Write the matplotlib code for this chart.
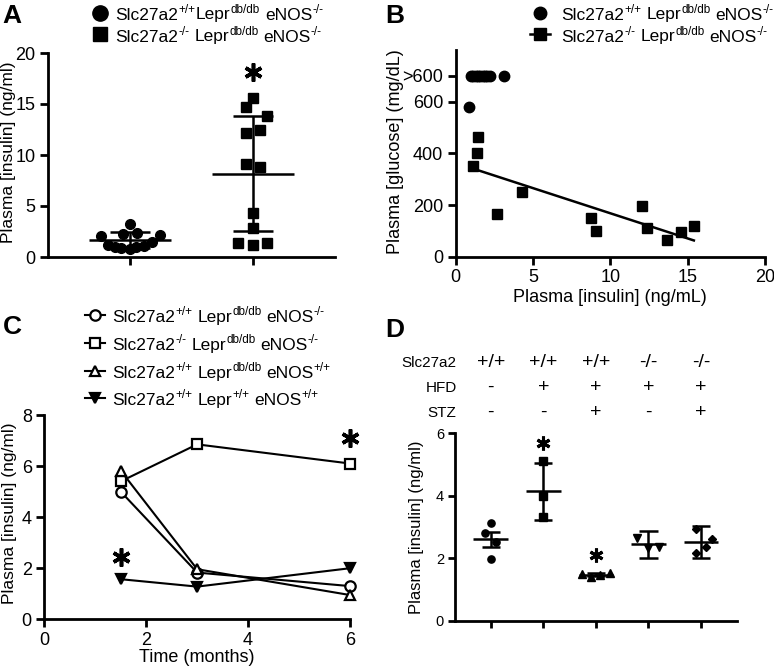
import numpy as np
import matplotlib
matplotlib.use('Agg')
import matplotlib.pyplot as plt
from matplotlib.lines import Line2D

plt.rcParams['font.family'] = ['Liberation Sans', 'DejaVu Sans']

# ---------------- data ----------------
# Panel A: plasma insulin (ng/ml)
A_wt = [3.2, 2.1, 2.3, 2.4, 2.2, 1.2, 1.0, 0.9, 0.8, 1.0, 1.1, 1.5]
A_ko = [15.6, 14.7, 13.8, 12.2, 12.5, 9.1, 8.8, 4.3, 2.85, 1.4, 1.2, 1.4]
# legend labels as (text, superscript?) segments; ' ' marks a word space
A_labels = [[('Slc27a2', 0), ('+/+', 1), ('Lepr', 0), ('db/db', 1), (' ', 0), ('eNOS', 0), ('-/-', 1)],
            [('Slc27a2', 0), ('-/-', 1), (' ', 0), ('Lepr', 0), ('db/db', 1), (' ', 0), ('eNOS', 0), ('-/-', 1)]]

# Panel B: insulin (ng/mL) vs glucose (mg/dL); 700 = ">600"
B_wt_ins = [0.88, 1.0, 1.15, 1.3, 1.45, 1.6, 1.75, 1.9, 2.05, 2.2, 3.15]
B_wt_glu = [580, 700, 700, 700, 700, 700, 700, 700, 700, 700, 700]
B_ko_ins = [1.46, 1.36, 1.10, 2.69, 4.27, 8.73, 9.05, 12.06, 12.35, 13.64, 14.55, 15.4]
B_ko_glu = [462, 400, 352, 166, 252, 149, 101, 197, 110, 65, 97, 120]
B_yticks = [0, 200, 400, 600, 700]
B_yticklabels = ['0', '200', '400', '600', '>600']
B_labels = [[('Slc27a2', 0), ('+/+', 1), (' ', 0), ('Lepr', 0), ('db/db', 1), (' ', 0), ('eNOS', 0), ('-/-', 1)],
            [('Slc27a2', 0), ('-/-', 1), (' ', 0), ('Lepr', 0), ('db/db', 1), (' ', 0), ('eNOS', 0), ('-/-', 1)]]

# Panel C: insulin over time
C_time = [1.5, 3, 6]
C_wt_db_eko = [5.0, 1.83, 1.3]
C_ko_db_eko = [5.4, 6.85, 6.1]
C_wt_db_ewt = [5.82, 1.96, 0.95]
C_wt_wt_ewt = [1.57, 1.28, 2.0]
C_labels = [[('Slc27a2', 0), ('+/+', 1), (' ', 0), ('Lepr', 0), ('db/db', 1), (' ', 0), ('eNOS', 0), ('-/-', 1)],
            [('Slc27a2', 0), ('-/-', 1), (' ', 0), ('Lepr', 0), ('db/db', 1), (' ', 0), ('eNOS', 0), ('-/-', 1)],
            [('Slc27a2', 0), ('+/+', 1), (' ', 0), ('Lepr', 0), ('db/db', 1), (' ', 0), ('eNOS', 0), ('+/+', 1)],
            [('Slc27a2', 0), ('+/+', 1), (' ', 0), ('Lepr', 0), ('+/+', 1), (' ', 0), ('eNOS', 0), ('+/+', 1)]]

# Panel D: insulin by treatment group
D_slc = ['+/+', '+/+', '+/+', '-/-', '-/-']
D_hfd = ['-', '+', '+', '+', '+']
D_stz = ['-', '-', '+', '-', '+']
D_vals = [[3.14, 2.8, 2.53, 1.99],
          [5.12, 4.0, 3.31],
          [1.5, 1.39, 1.46, 1.54],
          [2.64, 2.32, 2.37],
          [2.93, 2.62, 2.35, 2.16]]
D_err = [0.24, 0.91, 0.05, 0.42, 0.52]

# ---------------- layout (jitter / positions) ----------------
A_jit_wt = [0, -0.24, -0.06, 0.06, 0.24, -0.18, -0.12, -0.07, 0.0, 0.05, 0.11, 0.18]
A_jit_ko = [0, -0.06, 0.11, -0.06, 0.055, -0.06, 0.055, 0, 0, -0.12, 0, 0.11]
D_jit = [[0, -0.11, 0.10, 0],
         [0, 0, 0],
         [-0.27, -0.09, 0.08, 0.26],
         [-0.22, 0, 0.21],
         [-0.09, 0.21, 0.10, -0.09]]
D_markers = ['o', 's', '^', 'v', 'D']

W, H = 774, 670
fig = plt.figure(figsize=(W / 100, H / 100), dpi=100)
renderer = fig.canvas.get_renderer()


def fx(px):
    return px / W


def fy(py):
    return 1 - py / H


def rich(xpx, ybase, segs, size):
    """Draw text with superscripts starting at pixel x, baseline pixel y."""
    x = xpx
    for txt, sup in segs:
        if txt == ' ':
            x += size * 0.26 * 100 / 72
            continue
        s = size * 0.68 if sup else size
        yb = ybase - (size * 0.40 * 100 / 72 if sup else 0)
        t = fig.text(fx(x), fy(yb), txt, fontsize=s, va='baseline', ha='left')
        x += t.get_window_extent(renderer).width + (0.5 if sup else 0.3)


def add_ax(l, t, r, b):
    ax = fig.add_axes([fx(l), fy(b), fx(r) - fx(l), fy(t) - fy(b)])
    for s in ['top', 'right']:
        ax.spines[s].set_visible(False)
    for s in ['left', 'bottom']:
        ax.spines[s].set_linewidth(2)
    ax.tick_params(width=2, length=6, direction='out', labelsize=13, pad=3)
    return ax


def star(ax, x, y, size=13, mew=2.6):
    ax.plot([x], [y], marker=(6, 2, 0), ms=size, mew=mew, color='k', clip_on=False, zorder=5)


LW = 1.8
FS_LAB = 13
FS_LEG = 12.5

# ---------------- Panel A ----------------
axA = add_ax(48, 53, 335, 257)
axA.set_xlim(-0.667, 1.667)
axA.set_ylim(0, 20)
axA.set_yticks([0, 5, 10, 15, 20])
axA.set_xticks([0, 1])
axA.set_xticklabels(['', ''])
for i, (vals, jit, mk) in enumerate([(A_wt, A_jit_wt, 'o'), (A_ko, A_jit_ko, 's')]):
    v = np.array(vals)
    axA.plot(i + np.array(jit), v, ls='none', marker=mk, ms=7 if mk == 'o' else 7.2,
             color='k', clip_on=False, zorder=3)
    m, s = v.mean(), v.std(ddof=1)
    axA.hlines(m, i - 0.33, i + 0.33, color='k', lw=LW, zorder=4)
    axA.vlines(i, m - s, m + s, color='k', lw=LW, zorder=4)
    axA.hlines([m - s, m + s], i - 0.16, i + 0.16, color='k', lw=LW, zorder=4)
star(axA, 1, 18.1)
fig.text(fx(9), fy(152), 'Plasma [insulin] (ng/ml)', rotation=90, ha='center', va='center', fontsize=12.5)
fig.add_artist(Line2D([fx(100)], [fy(12.5)], transform=fig.transFigure, marker='o', ms=11, color='k', ls='none'))
fig.add_artist(Line2D([fx(100)], [fy(34)], transform=fig.transFigure, marker='s', ms=10, color='k', ls='none'))
rich(115, 19.5, A_labels[0], FS_LEG)
rich(115, 41.5, A_labels[1], FS_LEG)
fig.text(fx(2), fy(23), 'A', fontsize=19, fontweight='bold', va='baseline')

# ---------------- Panel B ----------------
axB = add_ax(455.7, 50, 765, 256.7)
axB.set_xlim(0, 20)
axB.set_ylim(0, 800)
axB.set_xticks([0, 5, 10, 15, 20])
axB.set_yticks(B_yticks)
axB.set_yticklabels(B_yticklabels)
axB.plot(B_wt_ins, B_wt_glu, ls='none', marker='o', ms=7.5, color='k', zorder=3)
axB.plot(B_ko_ins, B_ko_glu, ls='none', marker='s', ms=7.5, color='k', zorder=3)
coef = np.polyfit(B_ko_ins, B_ko_glu, 1)
xx = np.array([min(B_ko_ins), max(B_ko_ins)])
axB.plot(xx, np.polyval(coef, xx), color='k', lw=LW, zorder=2)
fig.text(fx(610), fy(298), 'Plasma [insulin] (ng/mL)', ha='center', va='center', fontsize=FS_LAB)
fig.text(fx(396), fy(152), 'Plasma [glucose] (mg/dL)', rotation=90, ha='center', va='center', fontsize=FS_LAB)
fig.add_artist(Line2D([fx(540)], [fy(12.5)], transform=fig.transFigure, marker='o', ms=9, color='k', ls='none'))
fig.add_artist(Line2D([fx(530), fx(550)], [fy(34), fy(34)], transform=fig.transFigure, lw=LW, color='k'))
fig.add_artist(Line2D([fx(540)], [fy(34)], transform=fig.transFigure, marker='s', ms=9, color='k', ls='none'))
rich(561, 19.5, B_labels[0], FS_LEG)
rich(561, 41.5, B_labels[1], FS_LEG)
fig.text(fx(385), fy(23), 'B', fontsize=19, fontweight='bold', va='baseline')

# ---------------- Panel C ----------------
axC = add_ax(44.3, 415, 350, 619.3)
axC.set_xlim(0, 6)
axC.set_ylim(0, 8)
axC.set_xticks([0, 2, 4, 6])
axC.set_yticks([0, 2, 4, 6, 8])
C_series = [(C_wt_db_eko, 'o', 'white'), (C_ko_db_eko, 's', 'white'),
            (C_wt_db_ewt, '^', 'white'), (C_wt_wt_ewt, 'v', 'k')]
for vals, mk, fc in C_series:
    axC.plot(C_time, vals, color='k', lw=1.5, marker=mk, ms=7.5, mfc=fc, mec='k', mew=1.6,
             clip_on=False, zorder=3)
star(axC, 1.5, 2.45)
star(axC, 6, 7.1)
fig.text(fx(197), fy(657), 'Time (months)', ha='center', va='center', fontsize=FS_LAB)
fig.text(fx(10), fy(513), 'Plasma [insulin] (ng/ml)', rotation=90, ha='center', va='center', fontsize=12.5)
rows_y = [315, 342.7, 370.7, 398.3]
for (vals, mk, fc), lab, y in zip(C_series, C_labels, rows_y):
    fig.add_artist(Line2D([fx(85), fx(105)], [fy(y), fy(y)], transform=fig.transFigure, lw=1.5, color='k'))
    fig.add_artist(Line2D([fx(95)], [fy(y)], transform=fig.transFigure, marker=mk, ms=7.5, mfc=fc,
                          mec='k', mew=1.6, ls='none'))
    rich(112, y + 7, lab, FS_LEG)
fig.text(fx(3), fy(334), 'C', fontsize=19, fontweight='bold', va='baseline')

# ---------------- Panel D ----------------
axD = add_ax(455, 433.3, 736.7, 620.7)
axD.set_xlim(-0.68, 4.68)
axD.set_ylim(0, 6)
axD.set_yticks([0, 2, 4, 6])
axD.set_xticks(range(5))
axD.set_xticklabels([''] * 5)
axD.tick_params(labelsize=10.5, length=5)
for i, (vals, jit, mk, e) in enumerate(zip(D_vals, D_jit, D_markers, D_err)):
    v = np.array(vals)
    axD.plot(i + np.array(jit), v, ls='none', marker=mk, ms=5.2 if mk != 'D' else 4.5,
             color='k', zorder=3)
    m = v.mean()
    axD.hlines(m, i - 0.33, i + 0.33, color='k', lw=LW, zorder=4)
    axD.vlines(i, m - e, m + e, color='k', lw=LW, zorder=4)
    axD.hlines([m - e, m + e], i - 0.175, i + 0.175, color='k', lw=LW, zorder=4)
star(axD, 1, 5.7, size=10, mew=2.2)
star(axD, 2, 2.1, size=10, mew=2.2)
fig.text(fx(417), fy(527), 'Plasma [insulin] (ng/ml)', rotation=90, ha='center', va='center', fontsize=12)
FS_TAB = 11
for name, row, yb in [('Slc27a2', D_slc, 367), ('HFD', D_hfd, 391.7), ('STZ', D_stz, 416.7)]:
    fig.text(fx(456.7), fy(yb), name, ha='right', va='baseline', fontsize=FS_TAB)
    for i, s in enumerate(row):
        xd = axD.transData.transform((i, 0))[0]
        fig.text(xd / fig.bbox.width, fy(yb), s, ha='center', va='baseline', fontsize=14)
fig.text(fx(385), fy(337), 'D', fontsize=19, fontweight='bold', va='baseline')

fig.savefig('out.png', dpi=100)
